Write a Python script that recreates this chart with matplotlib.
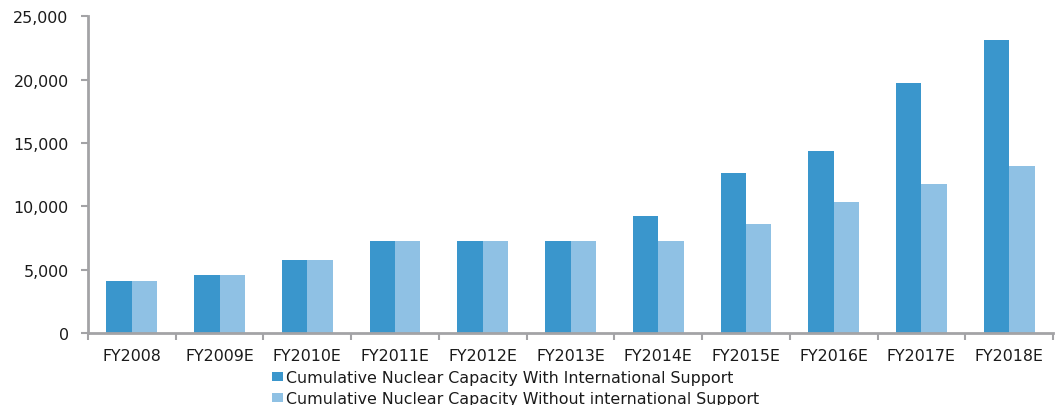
import matplotlib.pyplot as plt
import numpy as np
from matplotlib.ticker import FuncFormatter, FixedLocator

plt.rcParams['font.family'] = ['DejaVu Sans']

years = ['FY2008', 'FY2009E', 'FY2010E', 'FY2011E', 'FY2012E', 'FY2013E',
         'FY2014E', 'FY2015E', 'FY2016E', 'FY2017E', 'FY2018E']
with_support = [4120, 4570, 5740, 7300, 7300, 7300, 9250, 12670, 14380, 19720, 23150]
without_support = [4120, 4570, 5740, 7300, 7300, 7300, 7300, 8620, 10350, 11780, 13190]

dark = '#3a96cc'
light = '#8fc1e4'
axis_grey = '#a3a3a6'

fig = plt.figure(figsize=(10.63, 4.06), dpi=100)
ax = fig.add_axes([0.0828, 0.1773, 0.9078, 0.7797])

x = np.arange(len(years))
w = 0.29
ax.bar(x - w / 2, with_support, w, color=dark,
       label='Cumulative Nuclear Capacity With International Support')
ax.bar(x + w / 2, without_support, w, color=light,
       label='Cumulative Nuclear Capacity Without international Support')

ax.set_xlim(-0.5, len(years) - 0.5)
ax.set_ylim(0, 25000)
ax.set_yticks(np.arange(0, 25001, 5000))
ax.yaxis.set_major_formatter(FuncFormatter(lambda v, p: f'{int(v):,}'))

ax.set_xticks(x)
ax.set_xticklabels(years)
ax.xaxis.set_minor_locator(FixedLocator(np.arange(-0.5, len(years), 1.0)))
ax.tick_params(axis='x', which='major', length=0, pad=11)
ax.tick_params(axis='x', which='minor', length=5, width=1.5, color=axis_grey,
               direction='out')
ax.tick_params(axis='y', length=5, width=1.5, color=axis_grey, pad=9)
ax.tick_params(labelsize=11.4, labelcolor='#1a1a1a')

for side in ('top', 'right'):
    ax.spines[side].set_visible(False)
for side in ('left', 'bottom'):
    ax.spines[side].set_color(axis_grey)
    ax.spines[side].set_linewidth(2)

fig.legend(loc='upper left', bbox_to_anchor=(0.256, 0.085), ncol=1,
           frameon=False, fontsize=11.4, handlelength=0.7, handleheight=0.5,
           handletextpad=0.15, labelspacing=0.35, borderaxespad=0,
           borderpad=0, labelcolor='#1a1a1a')

fig.savefig('out.png', dpi=100)
